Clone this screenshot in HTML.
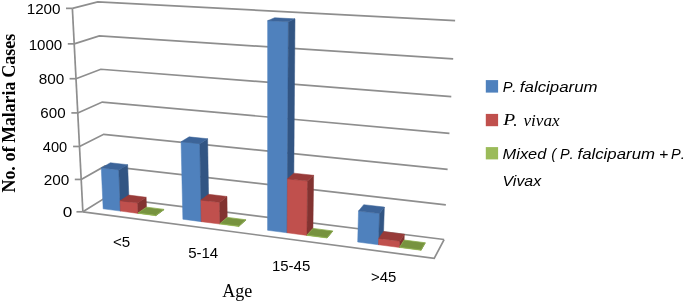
<!DOCTYPE html>
<html><head><meta charset="utf-8"><style>
html,body{margin:0;padding:0;background:#fff;overflow:hidden;}
svg{display:block;}
text{-webkit-font-smoothing:antialiased;}
svg{will-change:transform;}
.g polyline,.g line{fill:none;stroke:#8e8e8e;stroke-width:1.7;}
text{fill:#000;}
</style></head><body>
<svg width="685" height="302" viewBox="0 0 685 302">
<g class="g">
<polyline points="82.86,211.80 106.50,197.05 444.10,239.53"/>
<polyline points="81.19,179.44 105.11,165.94 445.84,204.83"/>
<polyline points="79.49,146.48 103.69,134.28 447.62,169.45"/>
<polyline points="77.76,112.91 102.25,102.06 449.44,133.36"/>
<polyline points="75.99,78.71 100.78,69.27 451.29,96.54"/>
<polyline points="74.20,43.87 99.29,35.88 453.18,58.97"/>
<polyline points="72.37,8.36 97.76,1.88 455.10,20.62"/>
<polyline points="82.86,211.80 434.21,258.38 444.10,239.53"/>
<polyline points="72.37,8.36 82.86,211.80"/>
<line x1="76.46" y1="211.80" x2="82.86" y2="211.80"/>
<line x1="74.79" y1="179.44" x2="81.19" y2="179.44"/>
<line x1="73.09" y1="146.48" x2="79.49" y2="146.48"/>
<line x1="71.36" y1="112.91" x2="77.76" y2="112.91"/>
<line x1="69.59" y1="78.71" x2="75.99" y2="78.71"/>
<line x1="67.80" y1="43.87" x2="74.20" y2="43.87"/>
<line x1="65.97" y1="8.36" x2="72.37" y2="8.36"/>
</g>
<g>
<polygon fill="#4f81bd" stroke="#4f81bd" stroke-width="0.5" stroke-linejoin="round" points="103.15,208.83 120.46,211.09 118.77,169.89 101.27,167.88"/>
<polygon fill="#325583" stroke="#325583" stroke-width="0.5" stroke-linejoin="round" points="120.46,211.09 129.19,205.26 127.63,164.69 118.77,169.89"/>
<polygon fill="#3c6499" stroke="#3c6499" stroke-width="0.5" stroke-linejoin="round" points="101.27,167.88 118.77,169.89 127.63,164.69 110.36,162.75"/>
<polygon fill="#c0504d" stroke="#c0504d" stroke-width="0.5" stroke-linejoin="round" points="120.46,211.09 138.01,213.38 137.63,202.99 120.04,200.76"/>
<polygon fill="#823331" stroke="#823331" stroke-width="0.5" stroke-linejoin="round" points="138.01,213.38 146.50,207.47 146.15,197.25 137.63,202.99"/>
<polygon fill="#983b39" stroke="#983b39" stroke-width="0.5" stroke-linejoin="round" points="120.04,200.76 137.63,202.99 146.15,197.25 128.80,195.09"/>
<polygon fill="#9bbb59" stroke="#9bbb59" stroke-width="0.5" stroke-linejoin="round" points="138.01,213.38 155.78,215.69 155.77,215.37 138.00,213.05"/>
<polygon fill="#6a8438" stroke="#6a8438" stroke-width="0.5" stroke-linejoin="round" points="155.78,215.69 164.03,209.71 164.02,209.39 155.77,215.37"/>
<polygon fill="#77933f" stroke="#8cad4e" stroke-width="0.8" stroke-linejoin="round" points="138.00,213.05 155.77,215.37 164.02,209.39 146.49,207.16"/>
<polygon fill="#4f81bd" stroke="#4f81bd" stroke-width="0.5" stroke-linejoin="round" points="182.89,219.23 201.27,221.63 199.84,143.66 181.07,141.75"/>
<polygon fill="#325583" stroke="#325583" stroke-width="0.5" stroke-linejoin="round" points="201.27,221.63 208.87,215.45 207.62,138.72 199.84,143.66"/>
<polygon fill="#3c6499" stroke="#3c6499" stroke-width="0.5" stroke-linejoin="round" points="181.07,141.75 199.84,143.66 207.62,138.72 189.13,136.87"/>
<polygon fill="#c0504d" stroke="#c0504d" stroke-width="0.5" stroke-linejoin="round" points="201.27,221.63 219.90,224.06 219.61,202.41 200.88,200.11"/>
<polygon fill="#823331" stroke="#823331" stroke-width="0.5" stroke-linejoin="round" points="219.90,224.06 227.22,217.79 226.98,196.48 219.61,202.41"/>
<polygon fill="#983b39" stroke="#983b39" stroke-width="0.5" stroke-linejoin="round" points="200.88,200.11 219.61,202.41 226.98,196.48 208.52,194.26"/>
<polygon fill="#9bbb59" stroke="#9bbb59" stroke-width="0.5" stroke-linejoin="round" points="219.90,224.06 238.78,226.52 238.78,226.10 219.89,223.64"/>
<polygon fill="#6a8438" stroke="#6a8438" stroke-width="0.5" stroke-linejoin="round" points="238.78,226.52 245.82,220.17 245.82,219.76 238.78,226.10"/>
<polygon fill="#77933f" stroke="#8cad4e" stroke-width="0.8" stroke-linejoin="round" points="219.89,223.64 238.78,226.10 245.82,219.76 227.21,217.38"/>
<polygon fill="#4f81bd" stroke="#4f81bd" stroke-width="0.5" stroke-linejoin="round" points="267.59,230.28 287.13,232.82 288.36,21.83 267.65,20.68"/>
<polygon fill="#325583" stroke="#325583" stroke-width="0.5" stroke-linejoin="round" points="287.13,232.82 293.43,226.25 295.00,18.85 288.36,21.83"/>
<polygon fill="#3c6499" stroke="#3c6499" stroke-width="0.5" stroke-linejoin="round" points="267.65,20.68 288.36,21.83 295.00,18.85 274.64,17.74"/>
<polygon fill="#c0504d" stroke="#c0504d" stroke-width="0.5" stroke-linejoin="round" points="287.13,232.82 306.94,235.41 307.56,181.09 287.44,178.85"/>
<polygon fill="#823331" stroke="#823331" stroke-width="0.5" stroke-linejoin="round" points="306.94,235.41 312.93,228.75 313.63,175.31 307.56,181.09"/>
<polygon fill="#983b39" stroke="#983b39" stroke-width="0.5" stroke-linejoin="round" points="287.44,178.85 307.56,181.09 313.63,175.31 293.83,173.15"/>
<polygon fill="#9bbb59" stroke="#9bbb59" stroke-width="0.5" stroke-linejoin="round" points="306.94,235.41 327.03,238.03 327.04,237.69 306.95,235.07"/>
<polygon fill="#6a8438" stroke="#6a8438" stroke-width="0.5" stroke-linejoin="round" points="327.03,238.03 332.70,231.27 332.71,230.94 327.04,237.69"/>
<polygon fill="#77933f" stroke="#8cad4e" stroke-width="0.8" stroke-linejoin="round" points="306.95,235.07 327.04,237.69 332.71,230.94 312.94,228.41"/>
<polygon fill="#4f81bd" stroke="#4f81bd" stroke-width="0.5" stroke-linejoin="round" points="357.71,242.03 378.53,244.75 379.52,213.56 358.51,211.04"/>
<polygon fill="#325583" stroke="#325583" stroke-width="0.5" stroke-linejoin="round" points="378.53,244.75 383.35,237.75 384.36,207.08 379.52,213.56"/>
<polygon fill="#3c6499" stroke="#3c6499" stroke-width="0.5" stroke-linejoin="round" points="358.51,211.04 379.52,213.56 384.36,207.08 363.71,204.66"/>
<polygon fill="#c0504d" stroke="#c0504d" stroke-width="0.5" stroke-linejoin="round" points="378.53,244.75 399.64,247.50 399.88,241.15 378.73,238.44"/>
<polygon fill="#823331" stroke="#823331" stroke-width="0.5" stroke-linejoin="round" points="399.64,247.50 404.11,240.40 404.35,234.16 399.88,241.15"/>
<polygon fill="#983b39" stroke="#983b39" stroke-width="0.5" stroke-linejoin="round" points="378.73,238.44 399.88,241.15 404.35,234.16 383.55,231.55"/>
<polygon fill="#9bbb59" stroke="#9bbb59" stroke-width="0.5" stroke-linejoin="round" points="399.64,247.50 421.07,250.29 421.08,249.94 399.66,247.15"/>
<polygon fill="#6a8438" stroke="#6a8438" stroke-width="0.5" stroke-linejoin="round" points="421.07,250.29 425.17,243.09 425.18,242.75 421.08,249.94"/>
<polygon fill="#77933f" stroke="#8cad4e" stroke-width="0.8" stroke-linejoin="round" points="399.66,247.15 421.08,249.94 425.18,242.75 404.12,240.06"/>
</g>
<text x="26.68" y="13.80" textLength="33.90" lengthAdjust="spacingAndGlyphs" style="font-family:'Liberation Sans';font-size:15px;font-style:normal;font-weight:normal">1200</text>
<text x="28.69" y="49.55" textLength="33.58" lengthAdjust="spacingAndGlyphs" style="font-family:'Liberation Sans';font-size:15px;font-style:normal;font-weight:normal">1000</text>
<text x="38.68" y="84.05" textLength="25.55" lengthAdjust="spacingAndGlyphs" style="font-family:'Liberation Sans';font-size:15px;font-style:normal;font-weight:normal">800</text>
<text x="40.39" y="118.25" textLength="25.24" lengthAdjust="spacingAndGlyphs" style="font-family:'Liberation Sans';font-size:15px;font-style:normal;font-weight:normal">600</text>
<text x="42.80" y="151.55" textLength="24.43" lengthAdjust="spacingAndGlyphs" style="font-family:'Liberation Sans';font-size:15px;font-style:normal;font-weight:normal">400</text>
<text x="43.78" y="184.75" textLength="25.55" lengthAdjust="spacingAndGlyphs" style="font-family:'Liberation Sans';font-size:15px;font-style:normal;font-weight:normal">200</text>
<text x="62.66" y="217.15" textLength="9.54" lengthAdjust="spacingAndGlyphs" style="font-family:'Liberation Sans';font-size:15px;font-style:normal;font-weight:normal">0</text>
<text x="113.03" y="247.30" textLength="17.25" lengthAdjust="spacingAndGlyphs" style="font-family:'Liberation Sans';font-size:15.5px;font-style:normal;font-weight:normal">&lt;5</text>
<text x="188.13" y="258.45" textLength="30.10" lengthAdjust="spacingAndGlyphs" style="font-family:'Liberation Sans';font-size:15.5px;font-style:normal;font-weight:normal">5-14</text>
<text x="271.93" y="271.35" textLength="38.40" lengthAdjust="spacingAndGlyphs" style="font-family:'Liberation Sans';font-size:15.5px;font-style:normal;font-weight:normal">15-45</text>
<text x="370.94" y="282.45" textLength="25.35" lengthAdjust="spacingAndGlyphs" style="font-family:'Liberation Sans';font-size:15.5px;font-style:normal;font-weight:normal">&gt;45</text>
<text x="222.22" y="296.60" textLength="30.01" lengthAdjust="spacingAndGlyphs" style="font-family:'Liberation Serif';font-size:18.4px;font-style:normal;font-weight:normal">Age</text>
<text x="502.63" y="91.50" textLength="9.80" lengthAdjust="spacingAndGlyphs" style="font-family:'Liberation Sans';font-size:15.2px;font-style:italic;font-weight:normal">P</text>
<text x="512.25" y="91.50" textLength="4.23" lengthAdjust="spacingAndGlyphs" style="font-family:'Liberation Sans';font-size:15.2px;font-style:italic;font-weight:normal">.</text>
<text x="519.89" y="91.50" textLength="77.69" lengthAdjust="spacingAndGlyphs" style="font-family:'Liberation Sans';font-size:15.2px;font-style:italic;font-weight:normal">falciparum</text>
<text x="503.20" y="125.30" textLength="11.88" lengthAdjust="spacingAndGlyphs" style="font-family:'Liberation Serif';font-size:17.5px;font-style:italic;font-weight:normal">P</text>
<text x="513.35" y="125.80" textLength="4.25" lengthAdjust="spacingAndGlyphs" style="font-family:'Liberation Serif';font-size:17px;font-style:italic;font-weight:normal">.</text>
<text x="523.49" y="125.80" textLength="36.17" lengthAdjust="spacingAndGlyphs" style="font-family:'Liberation Serif';font-size:17px;font-style:italic;font-weight:normal">vivax</text>
<text x="502.62" y="158.60" textLength="43.66" lengthAdjust="spacingAndGlyphs" style="font-family:'Liberation Sans';font-size:15.2px;font-style:italic;font-weight:normal">Mixed</text>
<text x="551.14" y="158.60" textLength="4.86" lengthAdjust="spacingAndGlyphs" style="font-family:'Liberation Sans';font-size:15.2px;font-style:italic;font-weight:normal">(</text>
<text x="560.04" y="158.60" textLength="9.69" lengthAdjust="spacingAndGlyphs" style="font-family:'Liberation Sans';font-size:15.2px;font-style:italic;font-weight:normal">P</text>
<text x="569.55" y="158.60" textLength="4.23" lengthAdjust="spacingAndGlyphs" style="font-family:'Liberation Sans';font-size:15.2px;font-style:italic;font-weight:normal">.</text>
<text x="577.49" y="158.60" textLength="77.48" lengthAdjust="spacingAndGlyphs" style="font-family:'Liberation Sans';font-size:15.2px;font-style:italic;font-weight:normal">falciparum</text>
<text x="658.96" y="158.60" textLength="9.26" lengthAdjust="spacingAndGlyphs" style="font-family:'Liberation Sans';font-size:15.2px;font-style:italic;font-weight:normal">+</text>
<text x="670.94" y="158.60" textLength="9.69" lengthAdjust="spacingAndGlyphs" style="font-family:'Liberation Sans';font-size:15.2px;font-style:italic;font-weight:normal">P</text>
<text x="680.65" y="158.60" textLength="4.23" lengthAdjust="spacingAndGlyphs" style="font-family:'Liberation Sans';font-size:15.2px;font-style:italic;font-weight:normal">.</text>
<text x="502.55" y="185.60" textLength="38.62" lengthAdjust="spacingAndGlyphs" style="font-family:'Liberation Sans';font-size:15.2px;font-style:italic;font-weight:normal">Vivax</text>
<text transform="translate(14.90,192.45) rotate(-90)" x="0" y="0" textLength="26.27" lengthAdjust="spacingAndGlyphs" style="font-family:'Liberation Serif';font-size:18.8px;font-weight:bold">No.</text>
<text transform="translate(14.90,161.58) rotate(-90)" x="0" y="0" textLength="15.34" lengthAdjust="spacingAndGlyphs" style="font-family:'Liberation Serif';font-size:18.8px;font-weight:bold">of</text>
<text transform="translate(14.90,142.74) rotate(-90)" x="0" y="0" textLength="60.98" lengthAdjust="spacingAndGlyphs" style="font-family:'Liberation Serif';font-size:18.8px;font-weight:bold">Malaria</text>
<text transform="translate(14.90,77.86) rotate(-90)" x="0" y="0" textLength="44.25" lengthAdjust="spacingAndGlyphs" style="font-family:'Liberation Serif';font-size:18.8px;font-weight:bold">Cases</text>
<rect x="485.8" y="80.1" width="12.3" height="12.5" fill="#4f81bd"/>
<rect x="485.8" y="113.9" width="12.3" height="12.3" fill="#c0504d"/>
<rect x="485.8" y="147.1" width="12.3" height="12.3" fill="#9bbb59"/>
</svg>
</body></html>
